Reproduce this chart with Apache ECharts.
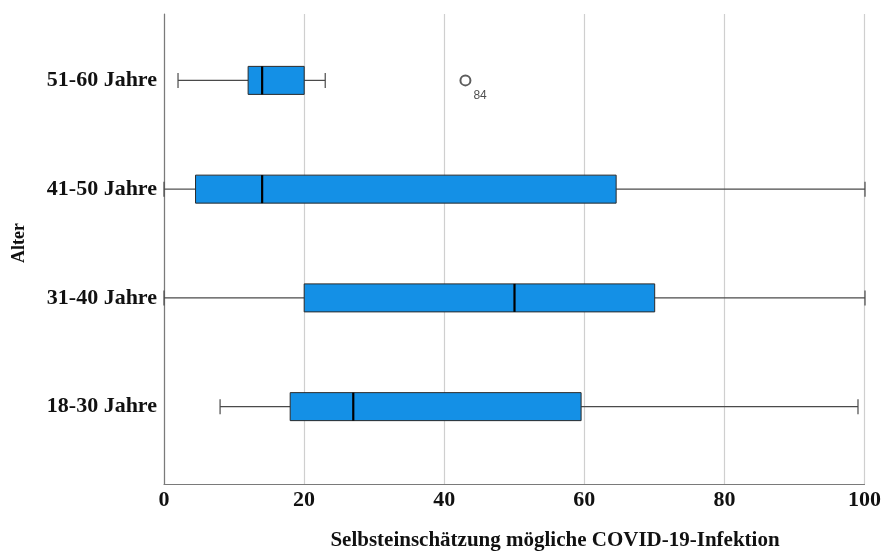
<!DOCTYPE html>
<html>
<head>
<meta charset="utf-8">
<script src="https://cdn.jsdelivr.net/npm/echarts@6/dist/echarts.min.js"></script>
<style>
  html, body { margin: 0; padding: 0; background: #fff; }
  #chart { width: 884px; height: 552px; }
</style>
</head>
<body>
<div id="chart"></div>
<script>
// Age groups (bottom to top) and their five-number summaries
const categories = ['18-30 Jahre', '31-40 Jahre', '41-50 Jahre', '51-60 Jahre'];
const whiskerLow  = [8, 0, 0, 2];
const quartile1   = [18, 20, 4.5, 12];
const medians     = [27, 50, 14, 14];
const quartile3   = [59.5, 70, 64.5, 20];
const whiskerHigh = [99, 100, 100, 23];

// Outliers: group, value, case number
const outlierGroups = ['51-60 Jahre'];
const outlierValues = [43];
const outlierCases  = ['84'];

const xTicks = [0, 20, 40, 60, 80, 100];

const serif = '"Liberation Serif", "Times New Roman", serif';

const boxData = categories.map((c, i) => [i, whiskerLow[i], quartile1[i], medians[i], quartile3[i], whiskerHigh[i]]);
const outlierData = outlierGroups.map((g, i) => ({
  value: [outlierValues[i], g],
  name: outlierCases[i]
}));

const BOX_H = 28;   // box thickness in px
const CAP_H = 15;   // whisker cap length in px

function renderBox(params, api) {
  const idx = api.value(0);
  const pMin = api.coord([api.value(1), idx]);
  const pQ1  = api.coord([api.value(2), idx]);
  const pMed = api.coord([api.value(3), idx]);
  const pQ3  = api.coord([api.value(4), idx]);
  const pMax = api.coord([api.value(5), idx]);
  const y = pMed[1];
  const whiskerStyle = { stroke: '#4a4a4a', lineWidth: 1.2 };
  const children = [
    { type: 'line', shape: { x1: pMin[0], y1: y, x2: pQ1[0], y2: y }, style: whiskerStyle },
    { type: 'line', shape: { x1: pQ3[0], y1: y, x2: pMax[0], y2: y }, style: whiskerStyle },
    { type: 'line', shape: { x1: pMin[0], y1: y - CAP_H / 2, x2: pMin[0], y2: y + CAP_H / 2 }, style: whiskerStyle },
    { type: 'line', shape: { x1: pMax[0], y1: y - CAP_H / 2, x2: pMax[0], y2: y + CAP_H / 2 }, style: whiskerStyle },
    { type: 'rect', shape: { x: pQ1[0], y: y - BOX_H / 2, width: pQ3[0] - pQ1[0], height: BOX_H },
      style: { fill: '#1490e6', stroke: '#2a2a2a', lineWidth: 1 } },
    { type: 'line', shape: { x1: pMed[0], y1: y - BOX_H / 2, x2: pMed[0], y2: y + BOX_H / 2 },
      style: { stroke: '#000', lineWidth: 2.2 } }
  ];
  return { type: 'group', children: children };
}

const chart = echarts.init(document.getElementById('chart'), null, { renderer: 'canvas' });

chart.setOption({
  animation: false,
  backgroundColor: '#ffffff',
  grid: [
    { left: 164, right: 19, top: 14, bottom: 68 },
    { left: 164, right: 19, top: 26, bottom: 91 }
  ],
  xAxis: [
    {
      gridIndex: 0, type: 'value', min: 0, max: 100, interval: 20,
      axisLine: { show: true, lineStyle: { color: '#7a7a7a', width: 1.2 } },
      axisTick: { show: false },
      splitLine: { show: true, lineStyle: { color: '#cfcfcf', width: 1.2 } },
      axisLabel: { show: true, margin: 5, fontFamily: serif, fontWeight: 'bold', fontSize: 22, color: '#111',
        formatter: v => xTicks.indexOf(v) >= 0 ? String(v) : '' }
    },
    {
      gridIndex: 1, type: 'value', min: 0, max: 100, show: false
    }
  ],
  yAxis: [
    {
      gridIndex: 0, type: 'value', min: 0, max: 1,
      axisLine: { show: true, lineStyle: { color: '#7a7a7a', width: 1.2 } },
      axisTick: { show: false }, axisLabel: { show: false }, splitLine: { show: false }
    },
    {
      gridIndex: 1, type: 'category', data: categories,
      axisLine: { show: false }, axisTick: { show: false }, splitLine: { show: false },
      axisLabel: { margin: 7, padding: [4, 0, 0, 0], fontFamily: serif, fontWeight: 'bold', fontSize: 22, color: '#111' }
    }
  ],
  series: [
    {
      type: 'custom',
      xAxisIndex: 1, yAxisIndex: 1,
      renderItem: renderBox,
      encode: { x: [1, 2, 3, 4, 5], y: 0 },
      data: boxData,
      z: 3
    },
    {
      type: 'scatter',
      xAxisIndex: 1, yAxisIndex: 1,
      symbol: 'emptyCircle', symbolSize: 10,
      itemStyle: { color: '#333', borderColor: '#333', borderWidth: 1.3 },
      label: {
        show: true, position: 'right', offset: [-3, 15],
        formatter: p => p.name,
        fontFamily: 'Arial, "Liberation Sans", sans-serif', fontSize: 12, color: '#222'
      },
      data: outlierData,
      z: 4
    }
  ],
  graphic: [
    {
      type: 'text', x: 555, y: 541,
      style: {
        text: 'Selbsteinschätzung mögliche COVID-19-Infektion',
        font: 'bold 21px ' + serif, fill: '#111',
        textAlign: 'center', textVerticalAlign: 'middle'
      }
    },
    {
      type: 'text', x: 19, y: 243, rotation: Math.PI / 2, origin: [0, 0],
      style: {
        text: 'Alter', font: 'bold 18px ' + serif, fill: '#111',
        textAlign: 'center', textVerticalAlign: 'middle'
      }
    }
  ]
});
</script>
</body>
</html>
